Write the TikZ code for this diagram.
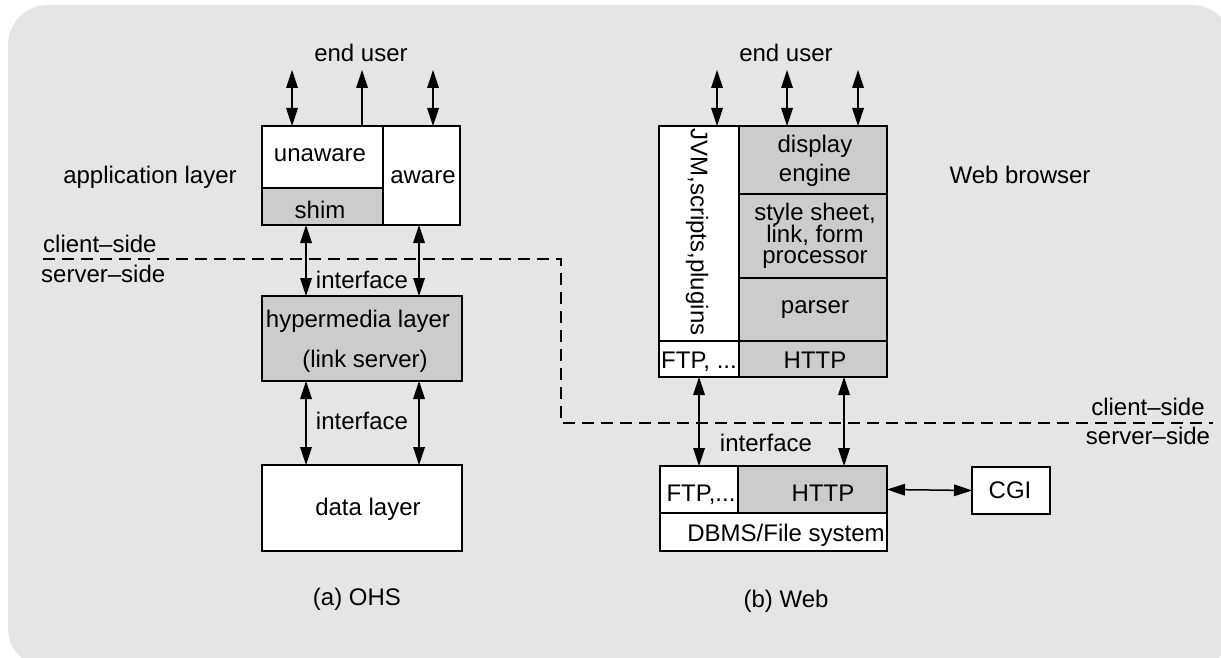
\documentclass[tikz,border=0pt]{standalone}
\usepackage{fontspec}
\setmainfont{Liberation Sans}
\usetikzlibrary{arrows.meta}
\definecolor{bgc}{HTML}{E5E5E5}
\definecolor{boxgray}{HTML}{CCCCCC}
\begin{document}
\begin{tikzpicture}[x=1pt,y=-1pt,
  box/.style={draw=black,line width=1.3pt,fill=white,inner sep=0pt,outer sep=0pt},
  gbox/.style={box,fill=boxgray},
  txt/.style={inner sep=0pt,anchor=base,font=\fontsize{24}{21}\selectfont},
  tip/.tip={Triangle[length=18pt,width=12pt,line width=0pt]},
  dbl/.style={line width=1.5pt,tip-tip},
  sgl/.style={line width=1.5pt,-tip},
  sep/.style={line width=2.8pt,dash pattern=on 12pt off 7pt}]
\useasboundingbox (0,0) rectangle (1221,658);
\fill[bgc,rounded corners=40pt] (8,5) rectangle (1232,668);

% ---------- (a) OHS ----------
\node[box,minimum width=121pt,minimum height=62pt] (unaware) at (322.5,157) {};
\node[gbox,minimum width=121pt,minimum height=37pt] (shim) at (322.5,206.5) {};
\node[box,minimum width=77pt,minimum height=99pt] (aware) at (421.5,175.5) {};
\node[gbox,minimum width=200pt,minimum height=85pt] (hyper) at (362,338.5) {};
\node[box,minimum width=200pt,minimum height=86pt] (data) at (362,508) {};

\node[txt] (t-eu1) at (361,62) {end user};
\node[txt] (t-app) at (150,183) {application layer};
\node[txt] (t-unaware) at (320,161) {unaware};
\node[txt] (t-aware) at (423,183) {aware};
\node[txt] (t-shim) at (320,218) {shim};
\node[txt,anchor=base west] (t-cs1) at (43,252) {client\textendash side};
\node[txt,anchor=base west] (t-ss1) at (41,282) {server\textendash side};
\node[txt] (t-if1) at (362,288) {interface};
\node[txt] (t-hyp1) at (358,327) {hypermedia layer};
\node[txt] (t-hyp2) at (365,367) {(link server)};
\node[txt] (t-if2) at (362,429) {interface};
\node[txt] (t-data) at (368,515) {data layer};
\node[txt] (t-ohs) at (357,605) {(a) OHS};

\coordinate (e1) at (292,70);
\coordinate (e2) at (362,70);
\coordinate (e3) at (433,70);
\draw[dbl] (e1) -- (unaware.north -| e1);
\draw[sgl] (unaware.north -| e2) -- (e2);
\draw[dbl] (e3) -- (aware.north -| e3);
\coordinate (c1) at (306,0);
\coordinate (c2) at (419,0);
\draw[dbl] (shim.south -| c1) -- (hyper.north -| c1);
\draw[dbl] (aware.south -| c2) -- (hyper.north -| c2);
\draw[dbl] (hyper.south -| c1) -- (data.north -| c1);
\draw[dbl] (hyper.south -| c2) -- (data.north -| c2);

% ---------- (b) Web ----------
\node[box,minimum width=80pt,minimum height=215pt] (jvm) at (699,233.5) {};
\node[box,minimum width=80pt,minimum height=36pt] (ftp1) at (699,359) {};
\node[gbox,minimum width=148pt,minimum height=68pt] (display) at (813,160) {};
\node[gbox,minimum width=148pt,minimum height=84pt] (style) at (813,236) {};
\node[gbox,minimum width=148pt,minimum height=63pt] (parser) at (813,309.5) {};
\node[gbox,minimum width=148pt,minimum height=36pt] (http1) at (813,359) {};

\node[box,minimum width=78pt,minimum height=47pt] (ftp2) at (699,489.5) {};
\node[gbox,minimum width=149pt,minimum height=47pt] (http2) at (812.5,489.5) {};
\node[box,minimum width=227pt,minimum height=38pt] (dbms) at (773.5,532) {};
\node[box,minimum width=78pt,minimum height=47pt] (cgi) at (1011,490.5) {};

\node[txt] (t-eu2) at (786,62) {end user};
\node[txt,anchor=center,rotate=-90] (t-jvm) at (697,232) {JVM,scripts,plugins};
\node[txt] (t-disp1) at (815,153) {display};
\node[txt] (t-disp2) at (815,182) {engine};
\node[txt] (t-st1) at (815,220) {style sheet,};
\node[txt] (t-st2) at (815,242) {link, form};
\node[txt] (t-st3) at (815,263) {processor};
\node[txt] (t-parser) at (815,313) {parser};
\node[txt] (t-ftp1) at (699,368) {FTP, ...};
\node[txt] (t-http1) at (815,368) {HTTP};
\node[txt] (t-wb) at (1020,183) {Web browser};
\node[txt] (t-cs2) at (1148,415) {client\textendash side};
\node[txt] (t-ss2) at (1148,444) {server\textendash side};
\node[txt] (t-if3) at (766,451) {interface};
\node[txt] (t-ftp2) at (701,501) {FTP,...};
\node[txt] (t-http2) at (823,501) {HTTP};
\node[txt] (t-dbms) at (786,541) {DBMS/File system};
\node[txt] (t-cgi) at (1010,498) {CGI};
\node[txt] (t-web) at (786,607) {(b) Web};

\coordinate (w1) at (717,70);
\coordinate (w2) at (787,70);
\coordinate (w3) at (858,70);
\draw[dbl] (w1) -- (jvm.north -| w1);
\draw[dbl] (w2) -- (display.north -| w2);
\draw[dbl] (w3) -- (display.north -| w3);
\coordinate (d1) at (699,0);
\coordinate (d2) at (844,0);
\draw[dbl] (ftp1.south -| d1) -- (ftp2.north -| d1);
\draw[dbl] (http1.south -| d2) -- (http2.north -| d2);
\draw[dbl] (http2.east) -- (cgi.west);

% ---------- client/server separator ----------
\coordinate (s0) at (43,259);
\coordinate (s1) at (561,259);
\coordinate (s2) at (561,423);
\coordinate (s3) at (1213,423);
\draw[sep] (s0) -- (s1) -- (s2) -- (s3);
\end{tikzpicture}
\end{document}
